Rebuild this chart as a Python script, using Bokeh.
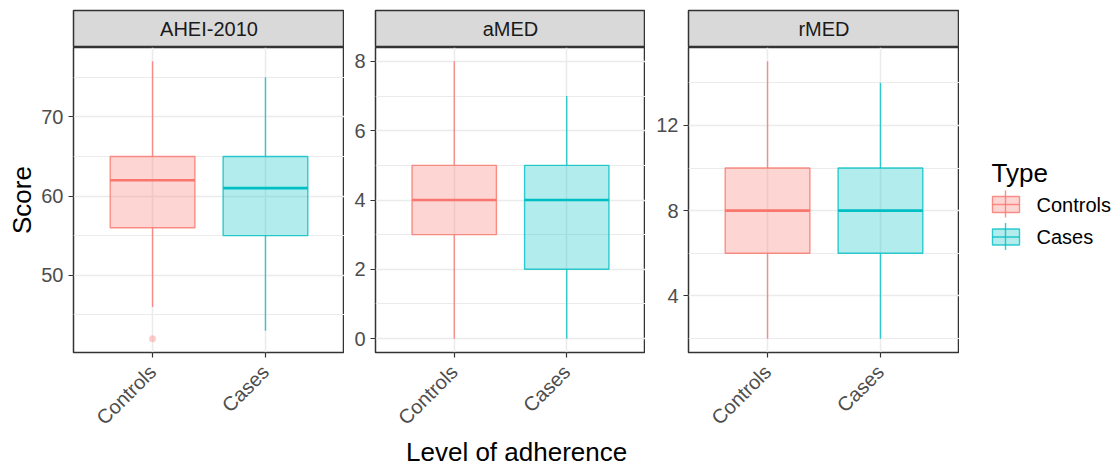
import math

from bokeh.core.properties import value
from bokeh.embed import file_html
from bokeh.layouts import column, row
from bokeh.models import ColumnDataSource, FactorRange, FixedTicker, Label, Range1d, Title
from bokeh.plotting import figure
from bokeh.resources import INLINE
from bokeh.transform import dodge

# ---- data -------------------------------------------------------------
groups = ["Controls", "Cases"]
colors = ["#F8766D", "#00BFC4"]
scores = ["AHEI-2010", "aMED", "rMED"]

# box-plot summaries, one value per group (Controls, Cases)
ahei_lower = [46, 43]
ahei_q1 = [56, 55]
ahei_median = [62, 61]
ahei_q3 = [65, 65]
ahei_upper = [77, 75]
ahei_outliers = [42]
ahei_outlier_groups = ["Controls"]

amed_lower = [0, 0]
amed_q1 = [3, 2]
amed_median = [4, 4]
amed_q3 = [5, 5]
amed_upper = [8, 7]
amed_outliers = []
amed_outlier_groups = []

rmed_lower = [2, 2]
rmed_q1 = [6, 6]
rmed_median = [8, 8]
rmed_q3 = [10, 10]
rmed_upper = [15, 14]
rmed_outliers = []
rmed_outlier_groups = []

ahei_major = [50, 60, 70]
ahei_minor = [45, 55, 65, 75]
amed_major = [0, 2, 4, 6, 8]
amed_minor = [1, 3, 5, 7]
rmed_major = [4, 8, 12]
rmed_minor = [2, 6, 10, 14]

x_title = "Level of adherence"
y_title = "Score"
legend_title = "Type"

# ---- style / layout ---------------------------------------------------
FONT = "Liberation Sans"
BORDER = "#333333"
GRID = "#EBEBEB"
STRIP = "#D9D9D9"
FRAME_H = 305
STRIP_H = 37
TOP = 10
BOTTOM = 114
LEFTS = [73, 31, 43]          # space left of each panel
WIDTHS = [271, 270, 271]      # panel widths
LEG_W = 158

color_of = dict(zip(groups, colors))


def strip(name, left, frame_w):
    s = figure(x_range=Range1d(0, 1), y_range=Range1d(0, 1),
               frame_width=frame_w, frame_height=STRIP_H,
               min_border_left=left, min_border_right=0,
               min_border_top=TOP, min_border_bottom=0,
               x_axis_location=None, y_axis_location=None,
               output_backend="svg", toolbar_location=None)
    s.grid.visible = False
    s.background_fill_color = STRIP
    s.outline_line_color = BORDER
    s.outline_line_width = 1.5
    s.add_layout(Label(x=0.5, y=0.5, text=name, text_align="center",
                       text_baseline="middle", text_font=FONT,
                       text_font_size="20px", text_color="#1A1A1A"))
    return s


def panel(lower, q1, med, q3, upper, out_y, out_g, major, minor,
          left, frame_w, ylabel=None):
    lo = min(lower + out_y)
    hi = max(upper)
    pad = 0.05 * (hi - lo)
    xr = FactorRange(*groups, range_padding=0.2, range_padding_units="absolute")
    p = figure(x_range=xr, y_range=Range1d(lo - pad, hi + pad),
               frame_width=frame_w, frame_height=FRAME_H,
               min_border_left=left, min_border_right=0,
               min_border_top=0, min_border_bottom=BOTTOM,
               output_backend="svg", toolbar_location=None)
    p.background_fill_color = "white"
    p.border_fill_color = "white"
    p.outline_line_color = BORDER
    p.outline_line_width = 1.5

    p.yaxis.ticker = FixedTicker(ticks=major, minor_ticks=minor)
    p.xgrid.grid_line_color = GRID
    p.xgrid.grid_line_width = 1.5
    p.ygrid.grid_line_color = GRID
    p.ygrid.grid_line_width = 1.5
    p.ygrid.minor_grid_line_color = GRID
    p.ygrid.minor_grid_line_width = 1

    for ax in (p.xaxis, p.yaxis):
        ax.axis_line_color = None
        ax.major_tick_line_color = BORDER
        ax.major_tick_line_width = 1.2
        ax.major_tick_out = 5
        ax.major_tick_in = 0
        ax.minor_tick_line_color = None
        ax.major_label_standoff = 5
        ax.major_label_text_font = FONT
        ax.major_label_text_font_size = "20px"
        ax.major_label_text_color = "#4D4D4D"
    p.xaxis.major_label_orientation = math.pi / 4
    p.xaxis.major_label_standoff = 11

    if ylabel:
        p.yaxis.axis_label = ylabel
        p.yaxis.axis_label_text_font = FONT
        p.yaxis.axis_label_text_font_size = "26px"
        p.yaxis.axis_label_text_font_style = "normal"
        p.yaxis.axis_label_text_color = "black"
        p.yaxis.axis_label_standoff = 1

    src = ColumnDataSource(dict(group=groups, color=colors, lower=lower,
                                q1=q1, median=med, q3=q3, upper=upper))
    whisk = dict(line_color="color", line_alpha=0.8, line_width=1.4, source=src)
    p.segment(x0="group", y0="q3", x1="group", y1="upper", **whisk)
    p.segment(x0="group", y0="lower", x1="group", y1="q1", **whisk)
    p.vbar(x="group", width=0.75, bottom="q1", top="q3",
           fill_color="color", fill_alpha=0.3,
           line_color="color", line_alpha=0.8, line_width=1.4, source=src)
    p.segment(x0=dodge("group", -0.375, range=xr), y0="median",
              x1=dodge("group", 0.375, range=xr), y1="median",
              line_color="color", line_width=2.6, source=src)
    if out_y:
        p.scatter(x=out_g, y=out_y, size=7,
                  fill_color=[color_of[g] for g in out_g], fill_alpha=0.35,
                  line_color=None)
    return p


specs = [
    (scores[0], ahei_lower, ahei_q1, ahei_median, ahei_q3, ahei_upper,
     ahei_outliers, ahei_outlier_groups, ahei_major, ahei_minor, y_title),
    (scores[1], amed_lower, amed_q1, amed_median, amed_q3, amed_upper,
     amed_outliers, amed_outlier_groups, amed_major, amed_minor, None),
    (scores[2], rmed_lower, rmed_q1, rmed_median, rmed_q3, rmed_upper,
     rmed_outliers, rmed_outlier_groups, rmed_major, rmed_minor, None),
]

cols = []
panels = []
for (name, lw, a, m, b, up, oy, og, mj, mn, yl), left, fw in zip(specs, LEFTS, WIDTHS):
    pn = panel(lw, a, m, b, up, oy, og, mj, mn, left, fw, yl)
    panels.append(pn)
    cols.append(column(strip(name, left, fw), pn))

# shared x-axis title, centred under the three panels; it lives in the
# bottom margin of the middle panel, offset from that panel's left edge
span_centre = (LEFTS[0] + sum(LEFTS) + sum(WIDTHS)) / 2
mid_frame_left = LEFTS[0] + WIDTHS[0] + LEFTS[1]
title_w = 221  # approx. width of the title at 26px
panels[1].add_layout(Title(text=x_title, align="left",
                           offset=span_centre - title_w / 2 - mid_frame_left,
                           vertical_align="bottom", standoff=-10,
                           text_font=FONT, text_font_size="26px",
                           text_font_style="normal", text_color="black"),
                     "below")

# ---- legend -----------------------------------------------------------
LEG_H = TOP + STRIP_H + FRAME_H + BOTTOM
leg = figure(x_range=Range1d(0, LEG_W), y_range=Range1d(LEG_H, 0),
             frame_width=LEG_W, frame_height=LEG_H,
             min_border=0, x_axis_location=None, y_axis_location=None,
             output_backend="svg", toolbar_location=None)
leg.grid.visible = False
leg.outline_line_color = None
leg.text(x=[32], y=[172], text=[legend_title], text_font=value(FONT),
         text_font_size="26px", text_color="black",
         text_baseline="alphabetic", text_align="left")
key_y = [204 + 32.5 * i for i in range(len(groups))]
leg.segment(x0=[46] * 2, x1=[46] * 2, y0=[y - 14 for y in key_y],
            y1=[y + 13 for y in key_y], line_color=colors, line_alpha=0.8,
            line_width=1.4)
leg.quad(left=[33] * 2, right=[60] * 2, top=[y - 8 for y in key_y],
         bottom=[y + 8 for y in key_y], fill_color=colors, fill_alpha=0.3,
         line_color=colors, line_alpha=0.8, line_width=1.4)
leg.segment(x0=[33] * 2, x1=[60] * 2, y0=key_y, y1=key_y,
            line_color=colors, line_alpha=0.8, line_width=1.4)
leg.text(x=[77] * 2, y=key_y, text=groups, text_font=value(FONT),
         text_font_size="20px", text_color="black",
         text_baseline="middle", text_align="left")

layout = row(*cols, leg)

with open("out.html", "w") as f:
    f.write(file_html(layout, INLINE))
